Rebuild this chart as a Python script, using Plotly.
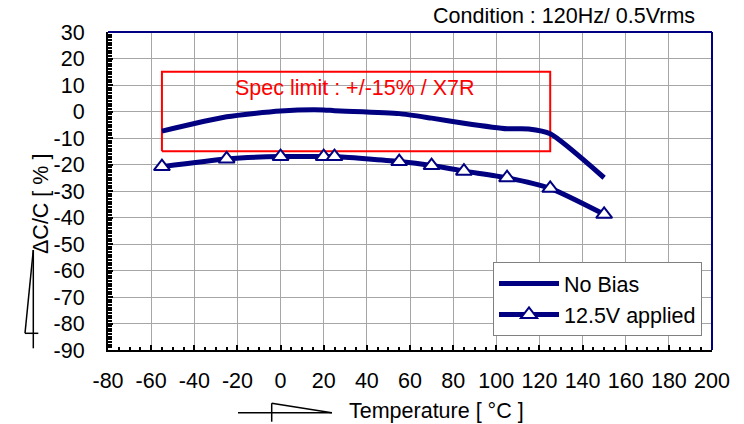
import plotly.graph_objects as go

# ---- data ----
temp_nobias = [-55, -25, 0, 20, 25, 55, 70, 85, 105, 115, 125, 150]
cap_nobias = [-7.4, -2.0, 0.2, 0.6, 0.3, -0.8, -2.5, -4.4, -6.5, -6.6, -8.4, -25.0]

temp_bias = [-55, -25, 0, 20, 25, 55, 70, 85, 105, 125, 150]
cap_bias = [-20.8, -17.9, -17.0, -17.0, -17.0, -18.9, -20.4, -22.5, -25.0, -29.0, -38.8]

spec_temp = [-55, 125]
spec_limit = [-15, 15]

x_ticks = list(range(-80, 201, 20))
y_ticks = list(range(-90, 31, 10))

NAVY = "#000080"
FONT = "Liberation Sans, Arial, sans-serif"
FS = 21.5

OFF = 8  # page body margin
W, H = 744 - OFF, 424 - OFF
L, T = 108 - OFF, 32 - OFF
R = W - (712 - OFF)
B = H - (350 - OFF)
PW, PH = W - L - R, H - T - B


def px(x):
    return (x - OFF - L) / PW


def py(y):
    return (H - B - (y - OFF)) / PH


fig = go.Figure()

# spec limit box
fig.add_trace(go.Scatter(
    x=[spec_temp[0], spec_temp[1], spec_temp[1], spec_temp[0], spec_temp[0]],
    y=[spec_limit[0], spec_limit[0], spec_limit[1], spec_limit[1], spec_limit[0]],
    mode="lines", line=dict(color="#FF0000", width=2),
    showlegend=False, hoverinfo="skip"))

fig.add_trace(go.Scatter(
    x=temp_nobias, y=cap_nobias, name="No Bias", mode="lines",
    line=dict(color=NAVY, width=5, shape="spline", smoothing=0.6)))

fig.add_trace(go.Scatter(
    x=temp_bias, y=cap_bias, name="12.5V applied", mode="lines+markers",
    line=dict(color=NAVY, width=5, shape="spline", smoothing=0.6),
    marker=dict(symbol="triangle-up", size=14, color="white",
                line=dict(color=NAVY, width=2))))

fig.add_annotation(
    x=(spec_temp[0] + spec_temp[1]) / 2 - 0.5, y=9, xref="x", yref="y",
    text="Spec limit : +/-15% / X7R", showarrow=False,
    font=dict(color="#FF0000", size=FS, family=FONT))

fig.add_annotation(
    x=px(697), y=py(16), xref="paper", yref="paper", xanchor="right",
    yanchor="middle", text="Condition : 120Hz/ 0.5Vrms", showarrow=False,
    font=dict(color="black", size=FS, family=FONT))

fig.add_annotation(
    x=px(347), y=py(411), xref="paper", yref="paper", xanchor="left",
    yanchor="middle", text="Temperature [ °C ]", showarrow=False,
    font=dict(color="black", size=FS, family=FONT))

fig.add_annotation(
    x=px(41), y=py(204), xref="paper", yref="paper", xanchor="center",
    yanchor="middle", text="ΔC/C [ % ]", textangle=-90, showarrow=False,
    font=dict(color="black", size=FS, family=FONT))

# decorative strokes next to axis titles
deco = [
    (33.3, 250, 33.3, 348.3), (33.3, 250, 25, 333.3), (25, 333.3, 38.3, 333.3),
    (238, 412.7, 332, 412.7), (271.7, 403.3, 271.7, 421.7), (271.7, 403.3, 331.7, 412.7),
]
for x0, y0, x1, y1 in deco:
    fig.add_shape(type="line", xref="paper", yref="paper",
                  x0=px(x0), y0=py(y0), x1=px(x1), y1=py(y1),
                  line=dict(color="black", width=1.5))

# navy top / right frame
fig.add_shape(type="line", xref="paper", yref="paper", x0=0, x1=1, y0=1, y1=1,
              line=dict(color=NAVY, width=2), layer="above")
fig.add_shape(type="line", xref="paper", yref="paper", x0=1, x1=1, y0=0, y1=1,
              line=dict(color=NAVY, width=2), layer="above")

fig.update_xaxes(
    range=[-80, 200], tickvals=x_ticks, ticktext=[str(v) for v in x_ticks],
    showgrid=True, gridcolor="#a6a6a6", gridwidth=1, zeroline=False,
    showline=True, linecolor="black", linewidth=2,
    ticks="inside", ticklen=5, tickcolor="black", tickwidth=1.5,
    minor=dict(dtick=5, tick0=0, ticks="inside", ticklen=3, tickcolor="black", showgrid=False),
    ticklabelstandoff=10, automargin=False,
    tickfont=dict(size=FS, family=FONT, color="black"))
fig.update_yaxes(
    range=[-90, 30], tickvals=y_ticks, ticktext=[str(v) for v in y_ticks],
    showgrid=True, gridcolor="#a6a6a6", gridwidth=1, zeroline=False,
    showline=True, linecolor="black", linewidth=2,
    ticks="inside", ticklen=5, tickcolor="black", tickwidth=1.5,
    minor=dict(dtick=1, tick0=0, ticks="inside", ticklen=4, tickcolor="black", showgrid=False),
    ticklabelstandoff=17, automargin=False,
    tickfont=dict(size=FS, family=FONT, color="black"))

fig.update_layout(
    width=W, height=H, autosize=False,
    margin=dict(l=L, r=R, t=T, b=B),
    paper_bgcolor="white", plot_bgcolor="white",
    font=dict(family=FONT, size=FS, color="black"),
    legend=dict(x=px(493), y=py(262), xanchor="left", yanchor="top",
                bgcolor="white", bordercolor="#808080", borderwidth=1,
                font=dict(size=FS, family=FONT, color="black"),
                itemwidth=60, tracegroupgap=0),
)

fig.write_html("out.html")
